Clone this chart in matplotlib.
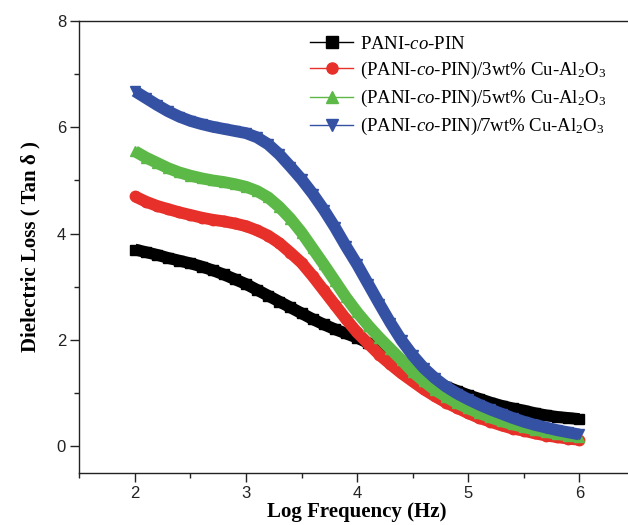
"""
Dielectric loss vs log frequency for PANI-co-PIN and Cu-Al2O3 composites
"""
import matplotlib
matplotlib.use("Agg")
import matplotlib.pyplot as pp
import matplotlib.ticker as ticker
from matplotlib.lines import Line2D

pp.rcParams['font.family'] = ['Liberation Sans', 'DejaVu Sans']
pp.rcParams['mathtext.fontset'] = 'custom'
pp.rcParams['mathtext.rm'] = 'Liberation Serif'
pp.rcParams['mathtext.it'] = 'Liberation Serif:italic'

# log frequency (Hz), every 0.1
log_freq = [2.0, 2.1, 2.2, 2.3, 2.4, 2.5, 2.6, 2.7, 2.8, 2.9,
            3.0, 3.1, 3.2, 3.3, 3.4, 3.5, 3.6, 3.7, 3.8, 3.9,
            4.0, 4.1, 4.2, 4.3, 4.4, 4.5, 4.6, 4.7, 4.8, 4.9,
            5.0, 5.1, 5.2, 5.3, 5.4, 5.5, 5.6, 5.7, 5.8, 5.9, 6.0]

pani = [3.70, 3.65, 3.60, 3.54, 3.49, 3.44, 3.38, 3.31, 3.23, 3.14,
        3.05, 2.94, 2.83, 2.72, 2.61, 2.50, 2.39, 2.29, 2.20, 2.12,
        2.04, 1.94, 1.81, 1.68, 1.55, 1.43, 1.32, 1.22, 1.12, 1.04,
        0.96, 0.89, 0.82, 0.76, 0.71, 0.67, 0.62, 0.58, 0.55, 0.53, 0.51]

cu3 = [4.70, 4.60, 4.52, 4.46, 4.40, 4.35, 4.30, 4.26, 4.23, 4.19,
       4.14, 4.06, 3.96, 3.82, 3.64, 3.45, 3.20, 2.93, 2.66, 2.39,
       2.14, 1.93, 1.72, 1.54, 1.37, 1.22, 1.07, 0.94, 0.82, 0.72,
       0.62, 0.53, 0.46, 0.39, 0.33, 0.29, 0.24, 0.20, 0.17, 0.14, 0.12]

cu5 = [5.55, 5.43, 5.33, 5.23, 5.15, 5.09, 5.04, 5.00, 4.97, 4.93,
       4.88, 4.80, 4.68, 4.50, 4.28, 4.02, 3.72, 3.42, 3.11, 2.80,
       2.52, 2.27, 2.04, 1.83, 1.62, 1.40, 1.22, 1.06, 0.93, 0.81,
       0.71, 0.62, 0.54, 0.47, 0.41, 0.36, 0.31, 0.27, 0.23, 0.20, 0.17]

cu7 = [6.68, 6.55, 6.42, 6.30, 6.20, 6.12, 6.06, 6.01, 5.97, 5.93,
       5.89, 5.81, 5.68, 5.49, 5.26, 5.02, 4.75, 4.45, 4.12, 3.76,
       3.42, 3.05, 2.68, 2.32, 1.99, 1.71, 1.47, 1.28, 1.12, 0.99,
       0.88, 0.78, 0.69, 0.61, 0.53, 0.46, 0.40, 0.35, 0.30, 0.26, 0.22]

labels = [r"PANI-$\it{co}$-PIN",
          r"(PANI-$\it{co}$-PIN)/3wt% Cu-Al$_2$O$_3$",
          r"(PANI-$\it{co}$-PIN)/5wt% Cu-Al$_2$O$_3$",
          r"(PANI-$\it{co}$-PIN)/7wt% Cu-Al$_2$O$_3$"]
colors = ["#000000", "#e8302a", "#5cb947", "#3551a4"]
markers = ["s", "o", "^", "v"]

fig = pp.figure(figsize=(6.28, 5.25), dpi=100)
ax = fig.add_axes([0.1263, 0.0996, 0.8847, 0.8604])

handles = []
for ys, col, mk, lab in zip([pani, cu3, cu5, cu7], colors, markers, labels):
    ax.plot(log_freq, ys, color=col, lw=8.5, solid_capstyle="butt")
    ax.plot(log_freq, ys, ls="none", marker=mk, ms=7.5, color=col, mec=col)
    handles.append(Line2D([], [], color=col, lw=1, marker=mk, ms=8, label=lab))

ax.set_xlim(1.5, 6.5)
ax.set_ylim(-0.5, 8)
ax.xaxis.set_major_locator(ticker.MultipleLocator(1))
ax.xaxis.set_minor_locator(ticker.MultipleLocator(0.5))
ax.yaxis.set_major_locator(ticker.MultipleLocator(2))
ax.yaxis.set_minor_locator(ticker.MultipleLocator(1))
ax.tick_params(which="both", direction="out", top=False, right=False,
               width=1.0, labelsize=12, colors="#222222")
ax.tick_params(which="major", length=6.5, pad=3)
ax.tick_params(which="minor", length=3.5)
for s in ax.spines.values():
    s.set_linewidth(1.0)
    s.set_color("#222222")

ax.set_xlabel("Log Frequency (Hz)", fontsize=15, fontweight="bold",
              family="Liberation Serif", labelpad=1)
ax.set_ylabel("Dielectric Loss ( Tan δ )", fontsize=15, fontweight="bold",
              family="Liberation Serif", labelpad=12)

leg = ax.legend(handles=handles, loc="upper left", bbox_to_anchor=(0.385, 1.005),
                frameon=False, handlelength=2.3, handletextpad=0.35,
                labelspacing=0.38, prop={"family": "Liberation Serif", "size": 13.5})

fig.savefig("out.png", dpi=100)
